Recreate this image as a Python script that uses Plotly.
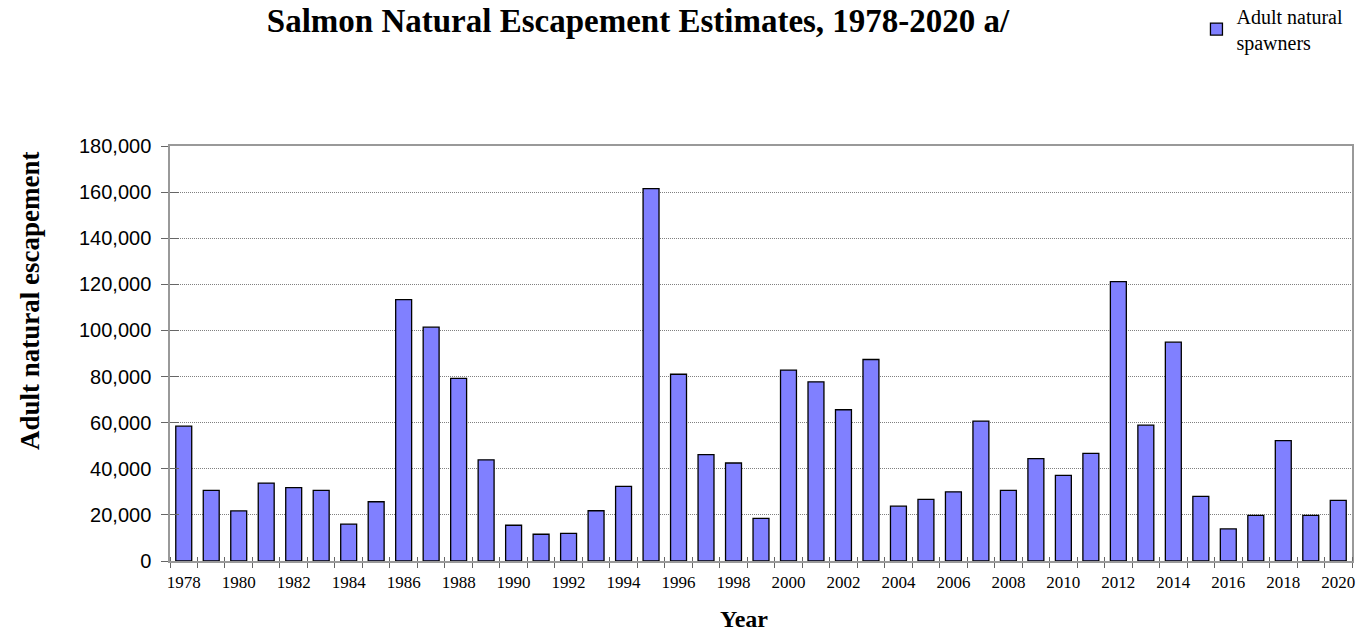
import plotly.graph_objects as go

years = list(range(1978, 2021))
spawners = [58500, 30600, 21700, 33800, 31800, 30600, 16000, 25700, 113400, 101400,
            79200, 43900, 15500, 11600, 12000, 21800, 32400, 161500, 81000, 46100,
            42500, 18500, 82800, 77700, 65600, 87400, 23800, 26700, 30000, 60700,
            30600, 44400, 37100, 46700, 121200, 58900, 94900, 28000, 13900, 19800,
            52200, 19800, 26300]
tick_years = list(range(1978, 2021, 2))
y_ticks = list(range(0, 180001, 20000))

serif = "Liberation Serif, Times New Roman, serif"
sans = "Liberation Sans, Arial, sans-serif"

fig = go.Figure()
fig.add_trace(go.Bar(
    x=years, y=spawners, name="Adult natural<br>spawners",
    marker=dict(color="#8080FF", line=dict(color="#000000", width=1.3)),
    width=0.58,
))
# invisible trace to carry the overlay axes (inside half of crossing ticks)
fig.add_trace(go.Scatter(x=[years[0]], y=[0], xaxis="x2", yaxis="y2",
                         mode="markers", marker=dict(opacity=0),
                         showlegend=False, hoverinfo="skip"))

fig.update_layout(
    width=1359, height=631,
    margin=dict(l=170, r=7, t=146, b=70, autoexpand=False),
    paper_bgcolor="white", plot_bgcolor="white",
    title=dict(text="<b>Salmon Natural Escapement Estimates, 1978-2020 a/</b>",
               xref="container", x=0.4695, xanchor="center",
               yref="container", y=0.968, yanchor="middle",
               font=dict(family=serif, size=33, color="black")),
    showlegend=True,
    legend=dict(x=0.997, xanchor="right", y=1.36, yanchor="top",
                font=dict(family=serif, size=20, color="black"),
                bgcolor="rgba(0,0,0,0)", itemwidth=30),
    xaxis=dict(
        range=[1977.5, 2020.5], tickmode="array", tickvals=tick_years,
        ticktext=[str(y) for y in tick_years],
        ticks="", showgrid=False, showline=True, linecolor="#999999", linewidth=1.5,
        tickfont=dict(family=serif, size=17, color="black"),
        ticklabelstandoff=5,
        minor=dict(ticks="outside", tick0=1977.5, dtick=1, ticklen=5,
                   tickcolor="#666666", showgrid=False),
        mirror=True, zeroline=False,
    ),
    xaxis2=dict(
        range=[1977.5, 2020.5], overlaying="x", side="bottom", anchor="y",
        showticklabels=False, ticks="", showgrid=False, showline=False,
        minor=dict(ticks="inside", tick0=1977.5, dtick=1, ticklen=4,
                   tickcolor="#666666", showgrid=False),
        zeroline=False,
    ),
    yaxis=dict(
        range=[0, 180000], tickmode="array", tickvals=y_ticks,
        ticktext=[f"{v:,}" for v in y_ticks],
        ticks="outside", ticklen=7, tickcolor="#666666",
        showgrid=True, gridcolor="#808080", griddash="1px,1px", gridwidth=1,
        showline=True, linecolor="#999999", linewidth=1.5, mirror=True,
        tickfont=dict(family=sans, size=20, color="black"),
        ticklabelstandoff=6,
        zeroline=False,
    ),
    yaxis2=dict(
        range=[0, 180000], overlaying="y", side="left", anchor="x",
        tickmode="array", tickvals=y_ticks, showticklabels=False,
        ticks="inside", ticklen=9, tickcolor="#666666",
        showgrid=False, showline=False, zeroline=False,
    ),
    annotations=[
        dict(text="<b>Adult natural escapement</b>", textangle=-90,
             xref="paper", yref="paper", x=(30 - 170) / 1182, y=(561 - 301) / 415,
             xanchor="center", yanchor="middle", showarrow=False,
             font=dict(family=serif, size=27, color="black")),
        dict(text="<b>Year</b>",
             xref="paper", yref="paper", x=(744 - 170) / 1182, y=(561 - 619) / 415,
             xanchor="center", yanchor="middle", showarrow=False,
             font=dict(family=serif, size=24, color="black")),
    ],
)

fig.write_html("out.html", config={"displayModeBar": False},
               post_script="document.body.style.margin='0';document.body.style.overflow='hidden';")
